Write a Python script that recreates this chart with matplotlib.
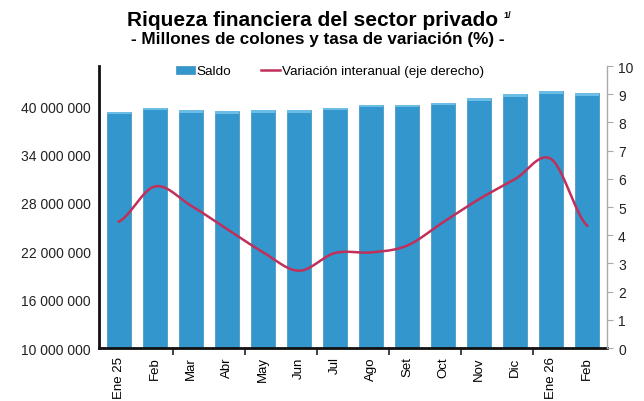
import numpy as np
import matplotlib
matplotlib.use("Agg")
import matplotlib.pyplot as plt
from matplotlib.ticker import FuncFormatter

plt.rcParams['font.family'] = ['Liberation Sans', 'DejaVu Sans']

categories = ["Ene 25", "Feb", "Mar", "Abr", "May", "Jun", "Jul", "Ago", "Set",
              "Oct", "Nov", "Dic", "Ene 26", "Feb"]
saldo = [39300000, 39850000, 39500000, 39400000, 39500000, 39500000, 39850000,
         40200000, 40200000, 40400000, 41000000, 41500000, 41850000, 41600000]
variacion = [4.48, 5.73, 5.05, 4.22, 3.40, 2.74, 3.37, 3.39, 3.63, 4.46, 5.28,
             5.99, 6.70, 4.34]

left_ticks = [10000000, 16000000, 22000000, 28000000, 34000000, 40000000]
right_ticks = list(range(0, 11))


def smooth(xs, ys, n=30):
    # Catmull-Rom style smoothing (as in spreadsheet "smoothed line")
    xs = np.asarray(xs, float)
    ys = np.asarray(ys, float)
    px = np.concatenate([[2 * xs[0] - xs[1]], xs, [2 * xs[-1] - xs[-2]]])
    py = np.concatenate([[ys[0]], ys, [ys[-1]]])
    out_x, out_y = [], []
    t = np.linspace(0, 1, n, endpoint=False)
    for i in range(1, len(px) - 2):
        p0, p1, p2, p3 = [np.array([px[j], py[j]]) for j in (i - 1, i, i + 1, i + 2)]
        c1 = p1 + (p2 - p0) / 6.0
        c2 = p2 - (p3 - p1) / 6.0
        b = ((1 - t) ** 3)[:, None] * p1 + (3 * (1 - t) ** 2 * t)[:, None] * c1 + \
            (3 * (1 - t) * t ** 2)[:, None] * c2 + (t ** 3)[:, None] * p2
        out_x.extend(b[:, 0]); out_y.extend(b[:, 1])
    out_x.append(xs[-1]); out_y.append(ys[-1])
    return np.array(out_x), np.array(out_y)


fig = plt.figure(figsize=(6.44, 4.02), dpi=100)
ax = fig.add_axes([0.1537, 0.1318, 0.7888, 0.7015])
x = np.arange(len(categories))

bar_color = "#3396CC"
bars = ax.bar(x, saldo, width=0.68, color=bar_color, edgecolor="#2a7fb0",
              linewidth=0.4, zorder=2, label="Saldo")
# lighter top cap of bars
ax.bar(x, [300000] * len(x), bottom=np.array(saldo) - 300000, width=0.68,
       color="#6cbde6", linewidth=0, zorder=3)

ax.set_ylim(10000000, 45000000)
ax.set_xlim(-0.55, len(categories) - 0.45)
ax.set_yticks(left_ticks)
ax.yaxis.set_major_formatter(FuncFormatter(lambda v, p: f"{int(v):,}".replace(",", " ")))
ax.tick_params(axis='y', labelsize=10, length=0, pad=6, colors="#222222")
ax.set_xticks(x)
ax.set_xticklabels(categories, rotation=90, fontsize=9.5)
ax.tick_params(axis='x', length=0, pad=6)
# minor ticks every two categories on bottom axis
ax.set_xticks(np.arange(1.5, len(categories) - 1, 2), minor=True)
ax.tick_params(axis='x', which='minor', length=5, width=1.2, direction='out', color="#222222")

for s in ("top", "right"):
    ax.spines[s].set_visible(False)
ax.spines['left'].set_linewidth(2)
ax.spines['bottom'].set_linewidth(2)
ax.spines['left'].set_color("#111111")
ax.spines['bottom'].set_color("#111111")

ax2 = ax.twinx()
sx, sy = smooth(x, variacion)
line, = ax2.plot(sx, sy, color="#C0305A", linewidth=1.8, zorder=5,
                 label="Variación interanual (eje derecho)")
ax2.set_ylim(0, 10)
ax2.set_yticks(right_ticks)
ax2.tick_params(axis='y', labelsize=10, length=4, color="#aaaaaa", colors="#222222", pad=4)
for s in ("top", "left", "bottom"):
    ax2.spines[s].set_visible(False)
ax2.spines['right'].set_color("#aaaaaa")
ax2.spines['right'].set_linewidth(1)
for t in ax2.get_yticklines():
    t.set_color("#aaaaaa")

ax2.legend([bars, line], ["Saldo", "Variación interanual (eje derecho)"],
           loc="upper center", bbox_to_anchor=(0.455, 1.045), ncol=2, frameon=False,
           fontsize=9.7, handlelength=1.4, handleheight=0.5, handletextpad=0.15,
           columnspacing=2.2)

fig.text(0.485, 0.948, "Riqueza financiera del sector privado", ha="center",
         va="center", fontsize=15, fontweight="bold")
fig.text(0.782, 0.962, "1/", ha="left", va="center", fontsize=6.5, fontweight="bold")
fig.text(0.494, 0.902, "- Millones de colones y tasa de variación (%) -", ha="center",
         va="center", fontsize=12.3, fontweight="bold")

fig.savefig("out.png", dpi=100)
